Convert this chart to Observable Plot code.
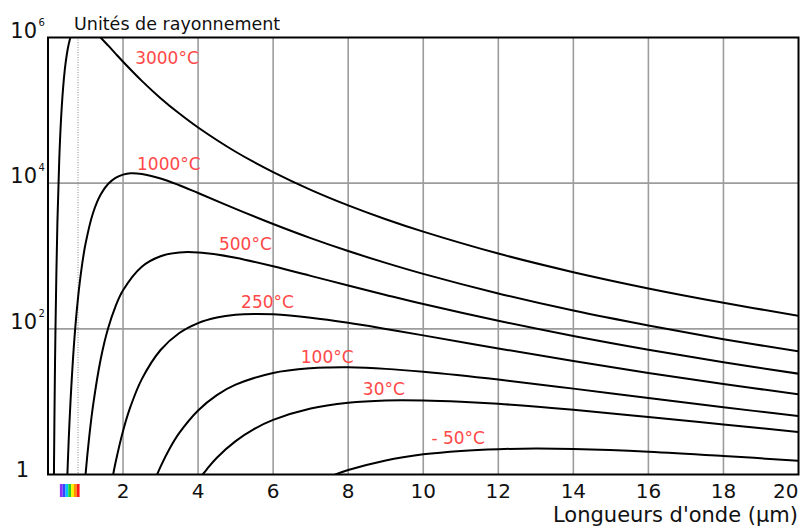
<!DOCTYPE html>
<html>
<head>
<meta charset="utf-8">
<script src="https://cdn.jsdelivr.net/npm/d3@7"></script>
<script src="https://cdn.jsdelivr.net/npm/@observablehq/plot@0.6"></script>
<style>
  html, body { margin: 0; padding: 0; background: #fff; }
  #chart svg { display: block; }
</style>
</head>
<body>
<div id="chart"></div>
<script>
// Black-body emission curves: wavelength (µm) and radiance units, one pair per temperature.
const wl3000 = [0.15, 0.16, 0.18, 0.2, 0.25, 0.3, 0.35, 0.4, 0.45, 0.5, 0.55, 0.6, 0.7, 0.8, 1.0, 1.2, 1.4, 1.6, 1.8, 2, 2.5, 3, 3.5, 4, 5, 6, 7, 8, 9, 10, 12, 14, 16, 18, 20];
const rad3000 = [0.29, 1.33, 15.6, 106, 2820, 21200, 79700, 196000, 370000, 580000, 800000, 1010000, 1330000, 1500000, 1490000, 1260000, 1000000, 778000, 600000, 465000, 254000, 147000, 90300, 58100, 27000, 14200, 8110, 4960, 3200, 2160, 1080, 600, 359, 228, 151];

const wl1000 = [0.5, 0.55, 0.6, 0.7, 0.8, 0.9, 1.0, 1.2, 1.4, 1.6, 1.8, 2.0, 2.2, 2.5, 3, 3.5, 4, 5, 6, 7, 8, 9, 10, 12, 14, 16, 18, 20];
const rad1000 = [0.58, 2.82, 10.1, 69, 266, 710, 1470, 3890, 6920, 9730, 11800, 13100, 13700, 13400, 11600, 9350, 7320, 4440, 2750, 1760, 1170, 804, 568, 306, 178, 111, 72.1, 49.0];

const wl500 = [0.9, 1.0, 1.1, 1.2, 1.4, 1.6, 1.8, 2, 2.5, 3, 3.5, 4, 4.5, 5, 6, 7, 8, 9, 10, 12, 14, 16, 18, 20];
const rad500 = [0.21, 0.99, 3.33, 8.81, 37.4, 101, 204, 339, 714, 994, 1118, 1120, 1050, 945, 721, 534, 393, 292, 219, 129, 79.7, 51.6, 34.8, 24.2];

const wl250 = [1.6, 1.7, 1.8, 2, 2.2, 2.5, 3, 3.5, 4, 4.5, 5, 5.5, 6, 7, 8, 9, 10, 12, 14, 16, 18, 20];
const rad250 = [0.39, 0.79, 1.46, 3.97, 8.60, 20.4, 51.2, 87.7, 120, 143, 156, 160, 158, 142, 121, 99.7, 81.3, 53.8, 36.1, 24.8, 17.5, 12.6];

const wl100 = [2.5, 2.75, 3, 3.25, 3.5, 4, 4.5, 5, 6, 7, 7.5, 8, 9, 10, 12, 14, 16, 18, 20];
const rad100 = [0.24, 0.62, 1.28, 2.31, 3.72, 7.57, 12.3, 17.1, 24.8, 28.8, 29.5, 29.6, 28.2, 25.7, 20.1, 15.1, 11.2, 8.38, 6.34];

const wl30 = [3.5, 4, 4.25, 4.5, 5, 5.5, 6, 7, 8, 9, 10, 11, 12, 14, 16, 18, 20];
const rad30 = [0.29, 0.82, 1.21, 1.70, 2.87, 4.23, 5.62, 8.06, 9.66, 10.4, 10.4, 10.0, 9.35, 7.73, 6.17, 4.86, 3.83];

const wlMinus50 = [7, 7.5, 8, 9, 10, 11, 12, 13, 14, 16, 18, 20];
const radMinus50 = [0.71, 0.93, 1.15, 1.56, 1.89, 2.11, 2.23, 2.27, 2.24, 2.06, 1.80, 1.54];

// Curve labels and where they sit (wavelength, radiance).
const temperatures = ["3000°C", "1000°C", "500°C", "250°C", "100°C", "30°C", "- 50°C"];
const labelWl = [3.17, 3.22, 5.26, 5.85, 7.44, 8.95, 10.93];
const labelRad = [426000, 15400, 1228, 196, 33.8, 12.2, 2.64];

// Axes
const xTicks = [2, 4, 6, 8, 10, 12, 14, 16, 18, 20];
const xGrid = [2, 4, 6, 8, 10, 12, 14, 16, 18];
const yGrid = [1e2, 1e4];
const yPowerTicks = [1e2, 1e4, 1e6];
const yPowerBase = ["10", "10", "10"];
const yPowerExp = ["2", "4", "6"];
const yUnitTick = [1];
const visibleLimit = [0.8];

// Visible spectrum strip under the axis
const spectrumEdges = [0.33, 0.405, 0.48, 0.555, 0.63, 0.705, 0.78, 0.855];
const spectrumColors = ["#9030f0", "#3048ff", "#00c0ff", "#28d028", "#f8f000", "#ff9000", "#ff1818"];

const series = [
  [wl3000, rad3000], [wl1000, rad1000], [wl500, rad500], [wl250, rad250],
  [wl100, rad100], [wl30, rad30], [wlMinus50, radMinus50]
];
const points = series.flatMap(([wl, rad], i) =>
  wl.map((w, j) => ({temperature: temperatures[i], wavelength: w, radiance: rad[j]}))
);
const labels = temperatures.map((t, i) => ({text: t, wavelength: labelWl[i], radiance: labelRad[i]}));
const spectrum = spectrumColors.map((c, i) => ({x1: spectrumEdges[i], x2: spectrumEdges[i + 1], color: c}));
const powerTicks = yPowerTicks.map((v, i) => ({value: v, base: yPowerBase[i], exp: yPowerExp[i]}));

const font = "DejaVu Sans";

const chart = Plot.plot({
  width: 805,
  height: 526,
  marginLeft: 47.5,
  marginRight: 7,
  marginTop: 37,
  marginBottom: 52,
  x: {domain: [0, 20], axis: null},
  y: {type: "log", domain: [1, 1e6], axis: null},
  style: {fontFamily: font, background: "white", color: "black"},
  marks: [
    Plot.ruleX(xGrid, {stroke: "#9c9c9c", strokeWidth: 1.6}),
    Plot.ruleY(yGrid, {stroke: "#9c9c9c", strokeWidth: 1.6}),
    Plot.ruleX(visibleLimit, {stroke: "#8a8a8a", strokeWidth: 1, strokeDasharray: "1,1.5"}),
    Plot.line(points, {
      x: "wavelength", y: "radiance", z: "temperature",
      stroke: "black", strokeWidth: 2, curve: "catmull-rom", clip: true
    }),
    Plot.text(labels, {
      x: "wavelength", y: "radiance", text: "text",
      fill: "#ff4848", fontSize: 17, lineAnchor: "bottom", textAnchor: "middle"
    }),
    Plot.frame({stroke: "black", strokeWidth: 2}),
    // spectrum strip
    Plot.rect(spectrum, {x1: "x1", x2: "x2", fill: "color", insetTop: 447, insetBottom: -23}),
    // x tick labels
    Plot.text(xTicks.slice(0, -1), {
      x: d => d, frameAnchor: "bottom", lineAnchor: "top", dy: 9.5,
      fontSize: 20, fill: "#111", text: d => String(d)
    }),
    Plot.text(xTicks.slice(-1), {
      x: d => d, frameAnchor: "bottom", lineAnchor: "top", dy: 9.5, textAnchor: "end", dx: 0,
      fontSize: 20, fill: "#111", text: d => String(d)
    }),
    // y tick labels: powers of ten
    Plot.text(powerTicks, {
      y: "value", text: "base", frameAnchor: "left", textAnchor: "end", lineAnchor: "bottom",
      dx: -11, fontSize: 21, fill: "#111"
    }),
    Plot.text(powerTicks, {
      y: "value", text: "exp", frameAnchor: "left", textAnchor: "start", lineAnchor: "bottom",
      dx: -9.5, dy: -12, fontSize: 10, fill: "#111"
    }),
    Plot.text(yUnitTick, {
      y: d => d, text: d => String(d), frameAnchor: "left", textAnchor: "middle", lineAnchor: "bottom",
      dx: -25.5, dy: 2.5, fontSize: 21, fill: "#111"
    }),
    // titles
    Plot.text(["Unités de rayonnement"], {
      frameAnchor: "top-left", textAnchor: "start", lineAnchor: "bottom",
      dx: 26, dy: -7.5, fontSize: 17.5, fill: "#111"
    }),
    Plot.text(["Longueurs d'onde (µm)"], {
      frameAnchor: "bottom-right", textAnchor: "end", lineAnchor: "bottom",
      dx: -0.5, dy: 47.5, fontSize: 21, fill: "#111"
    })
  ]
});

document.getElementById("chart").appendChild(chart);
</script>
</body>
</html>
